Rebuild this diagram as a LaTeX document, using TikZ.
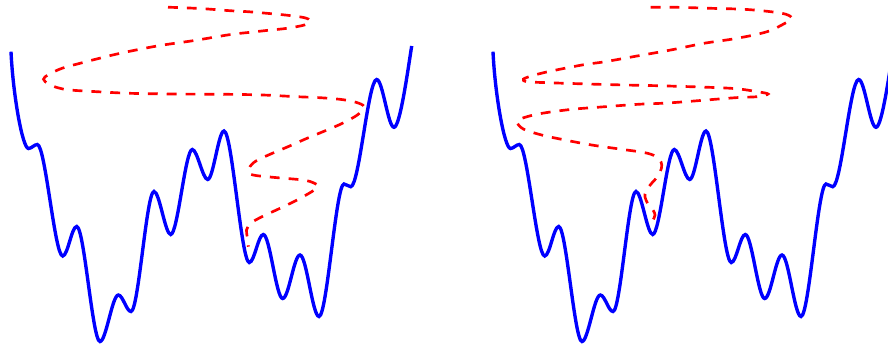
\documentclass[tikz,border=0pt]{standalone}
\usepackage{tikz}

\begin{document}
\begin{tikzpicture}[
      x=0.25mm,y=-0.25mm,
      potential/.style={draw=blue,line width=2.4pt},
      walk/.style={draw=red,line width=1.9pt,dash pattern=on 7pt off 6.4pt,
        smooth,tension=0.55}
    ]
      \clip (0,0) rectangle (888,350);
      % the same landscape in both panels
      \foreach \dx in {0,482}{
        \draw[potential,shift={(\dx,0)}] (11,51.7) .. controls +(2,43) and +(-6,0) .. (28.5,148.5)
          foreach \x/\y/\c in {37.3/144.5/3, 62.7/256/8, 76.7/226.5/5, 100/341.5/7.5,
            118.3/295/6, 131/311.5/4.5, 154/191.5/7.5, 170.7/234.5/5.5, 192.3/149.5/7,
            207.7/179.5/5, 224/131/5.5, 249.3/262.5/8, 263.3/234.5/5, 282.7/298.5/6.5,
            300/255/6, 319/316.5/6.5, 344/184/8, 350.7/186.7/2.5, 376.7/79.5/8.5,
            394/127.3/6}{ .. controls +(\c,0) and +(-\c,0) .. (\x,\y) }
          .. controls +(6,0) and +(-4,25) .. (411.7,46);
      }
      % left walk
      \draw[walk] plot coordinates {(168,7.2) (200,8.5) (230,10.7) (248,11.7) (267,13.3)
        (287,15.2) (304,17.6) (310.5,20.8) (305,24.8) (287,28.3) (268,30.3) (250,32.3)
        (230,34.6) (193,40.7) (157,46) (117,54) (80,63.3) (62,68.3) (48.5,74.5)
        (43.5,79.2) (48.5,84) (58,87.8) (70,90) (97,91.7) (130,93.3) (173,94) (227,94.3)
        (263,95) (297,96.7) (320,97.7) (340,99.3) (355,102) (364,106.5) (358,114.5)
        (343,123) (327,130) (307,138.3) (288,146.7) (270,154.3) (256,161) (250,166.5)
        (248.5,171.5) (253,175) (273,177.3) (303,180) (314,183) (318,186.5) (312,191.5)
        (297,200) (280,208.3) (262,216.7) (251,223) (246.5,230) (247.5,238) (248.3,246.7)};
      % right walk
      \draw[walk] plot coordinates {(650.7,7.3) (677,7.3) (710.7,8.3) (744,9.3)
        (770.7,11.7) (786,14.3) (792,18.3) (786,22.7) (767,31.7) (737,38.3) (704,43.3)
        (670.7,50) (637,56) (605,61.7) (582,65) (548,71.7) (533,75.5) (523.5,79)
        (527,81.7) (548,82.7) (588,84) (625,85) (668,86) (731,88.3) (757,91.7) (768,94)
        (757,96.7) (734,97.8) (672,102.7) (638,104.3) (605,106.7) (572,109.3)
        (542,113.3) (525,117.3) (517,121.5) (523.3,129) (541.7,135) (565,140)
        (591.7,145) (621.7,149.3) (645,152.7) (656,156.5) (661,162) (661.5,168)
        (658,176) (651,184) (646,191) (645,197) (648,204) (653,210) (655,215)
        (653,220)};
    \end{tikzpicture}
\end{document}
